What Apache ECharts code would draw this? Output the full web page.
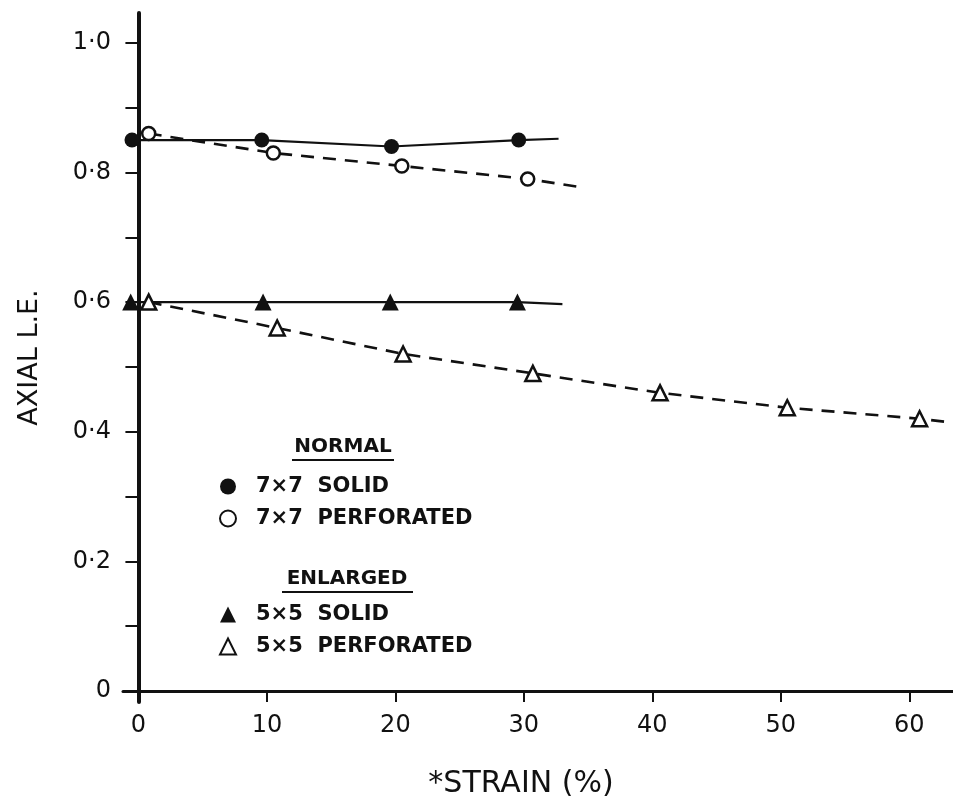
<!DOCTYPE html>
<html>
<head>
<meta charset="utf-8">
<title>Axial L.E. vs strain</title>
<script src="https://cdn.jsdelivr.net/npm/echarts@6/dist/echarts.min.js"></script>
<style>
  html, body { margin: 0; padding: 0; background: #fff; }
  #chart { width: 953px; height: 803px; }
</style>
</head>
<body>
<div id="chart"></div>
<script>
// Measured points: strain (%) and axial L.E. for each specimen type
const strain7Solid = [-0.5, 9.6, 19.7, 29.6];
const le7Solid     = [0.85, 0.85, 0.84, 0.85];
const strain7Perf  = [0.8, 10.5, 20.5, 30.3];
const le7Perf      = [0.86, 0.83, 0.81, 0.79];
const strain5Solid = [-0.6, 9.7, 19.6, 29.5];
const le5Solid     = [0.60, 0.60, 0.60, 0.60];
const strain5Perf  = [0.8, 10.8, 20.6, 30.7, 40.6, 50.5, 60.8];
const le5Perf      = [0.60, 0.56, 0.52, 0.49, 0.46, 0.437, 0.42];

// Where each hand-drawn trend line runs out past its last point
const tail7Solid = [32.7, 0.852];
const tail7Perf  = [34.2, 0.778];
const tail5Solid = [33.0, 0.597];
const tail5Perf  = [63.4, 0.414];

// Series names as listed in the key
const names = ['7×7  SOLID', '7×7  PERFORATED', '5×5  SOLID', '5×5  PERFORATED'];
const groupTitles = ['NORMAL', 'ENLARGED'];

// Axis ticks and labels
const xTickValues  = [0, 10, 20, 30, 40, 50, 60];
const yTickValues  = [0, 0.1, 0.2, 0.3, 0.4, 0.5, 0.6, 0.7, 0.8, 0.9, 1.0];
const yLabelValues = [0, 0.2, 0.4, 0.6, 0.8, 1.0];

const FONT = 'DejaVu Sans';
const INK = '#111';

const pairs = (xs, ys) => xs.map((x, i) => [x, ys[i]]);

const markerSeries = (name, xs, ys, symbol, size, open) => ({
  type: 'scatter',
  name: name,
  data: pairs(xs, ys),
  symbol: symbol,
  symbolSize: size,
  z: 5,
  itemStyle: open
    ? { color: '#fff', borderColor: INK, borderWidth: 2.5, opacity: 1 }
    : { color: INK, borderWidth: 0, opacity: 1 },
  emphasis: { disabled: true }
});

const trendSeries = (xs, ys, tail, dashed) => ({
  type: 'line',
  data: pairs(xs, ys).concat([tail]),
  showSymbol: false,
  symbol: 'none',
  z: 3,
  silent: true,
  lineStyle: {
    color: INK,
    width: dashed ? 2.6 : 2.2,
    type: dashed ? [13, 9] : 'solid'
  }
});

const legendBlock = (items, icons, top) => ({
  orient: 'vertical',
  left: 214,
  top: top,
  itemWidth: 16,
  itemHeight: 16,
  itemGap: 11,
  selectedMode: false,
  data: items.map((n, i) => ({ name: n, icon: icons[i] })),
  itemStyle: { opacity: 1 },
  textStyle: {
    fontFamily: FONT,
    fontSize: 21,
    fontWeight: 'bold',
    color: INK,
    padding: [0, 0, 0, 15]
  }
});

const chart = echarts.init(document.getElementById('chart'), null, { renderer: 'canvas' });

chart.setOption({
  backgroundColor: '#fff',
  animation: false,
  grid: { left: 123, right: 0, top: 13, bottom: 101, containLabel: false, outerBoundsMode: 'none' },
  xAxis: {
    type: 'value',
    min: -1.2,
    max: 63.4,
    splitLine: { show: false },
    axisLine: { onZero: true, lineStyle: { color: INK, width: 3 } },
    axisTick: { customValues: xTickValues, length: 11, lineStyle: { color: INK, width: 2 } },
    axisLabel: {
      customValues: xTickValues,
      margin: 12,
      fontFamily: FONT,
      fontSize: 24,
      color: INK
    },
    name: '*STRAIN (%)',
    nameLocation: 'middle',
    nameGap: 67,
    nameTextStyle: { fontFamily: FONT, fontSize: 30, color: INK, padding: [0, 34, 0, 0] }
  },
  yAxis: {
    type: 'value',
    min: -0.017,
    max: 1.046,
    splitLine: { show: false },
    axisLine: { onZero: true, lineStyle: { color: INK, width: 4 } },
    axisTick: { customValues: yTickValues, length: 13, lineStyle: { color: INK, width: 2 } },
    axisLabel: {
      customValues: yLabelValues,
      margin: 12,
      fontFamily: FONT,
      fontSize: 24,
      color: INK,
      formatter: v => (v === 0 ? '0' : v.toFixed(1).replace('.', '·'))
    },
    name: 'AXIAL L.E.',
    nameLocation: 'middle',
    nameRotate: 90,
    nameGap: 80,
    nameTextStyle: { fontFamily: FONT, fontSize: 27, color: INK }
  },
  legend: [
    legendBlock([names[0], names[1]], ['circle', 'circle'], 471),
    legendBlock([names[2], names[3]], ['triangle', 'triangle'], 599)
  ],
  graphic: [
    {
      type: 'text', x: 343, y: 447, z: 10,
      style: { text: groupTitles[0], fill: INK, font: 'bold 20px "DejaVu Sans"', align: 'center', verticalAlign: 'middle' }
    },
    { type: 'line', z: 10, shape: { x1: 292, y1: 460, x2: 394, y2: 460 }, style: { stroke: INK, lineWidth: 2 } },
    {
      type: 'text', x: 347, y: 579, z: 10,
      style: { text: groupTitles[1], fill: INK, font: 'bold 20px "DejaVu Sans"', align: 'center', verticalAlign: 'middle' }
    },
    { type: 'line', z: 10, shape: { x1: 282, y1: 592, x2: 413, y2: 592 }, style: { stroke: INK, lineWidth: 2 } }
  ],
  series: [
    trendSeries(strain7Solid, le7Solid, tail7Solid, false),
    trendSeries(strain7Perf, le7Perf, tail7Perf, true),
    trendSeries(strain5Solid, le5Solid, tail5Solid, false),
    trendSeries(strain5Perf, le5Perf, tail5Perf, true),
    markerSeries(names[0], strain7Solid, le7Solid, 'circle', 15, false),
    markerSeries(names[1], strain7Perf, le7Perf, 'circle', 13, true),
    markerSeries(names[2], strain5Solid, le5Solid, 'triangle', 17, false),
    markerSeries(names[3], strain5Perf, le5Perf, 'triangle', 15, true)
  ]
});
</script>
</body>
</html>
